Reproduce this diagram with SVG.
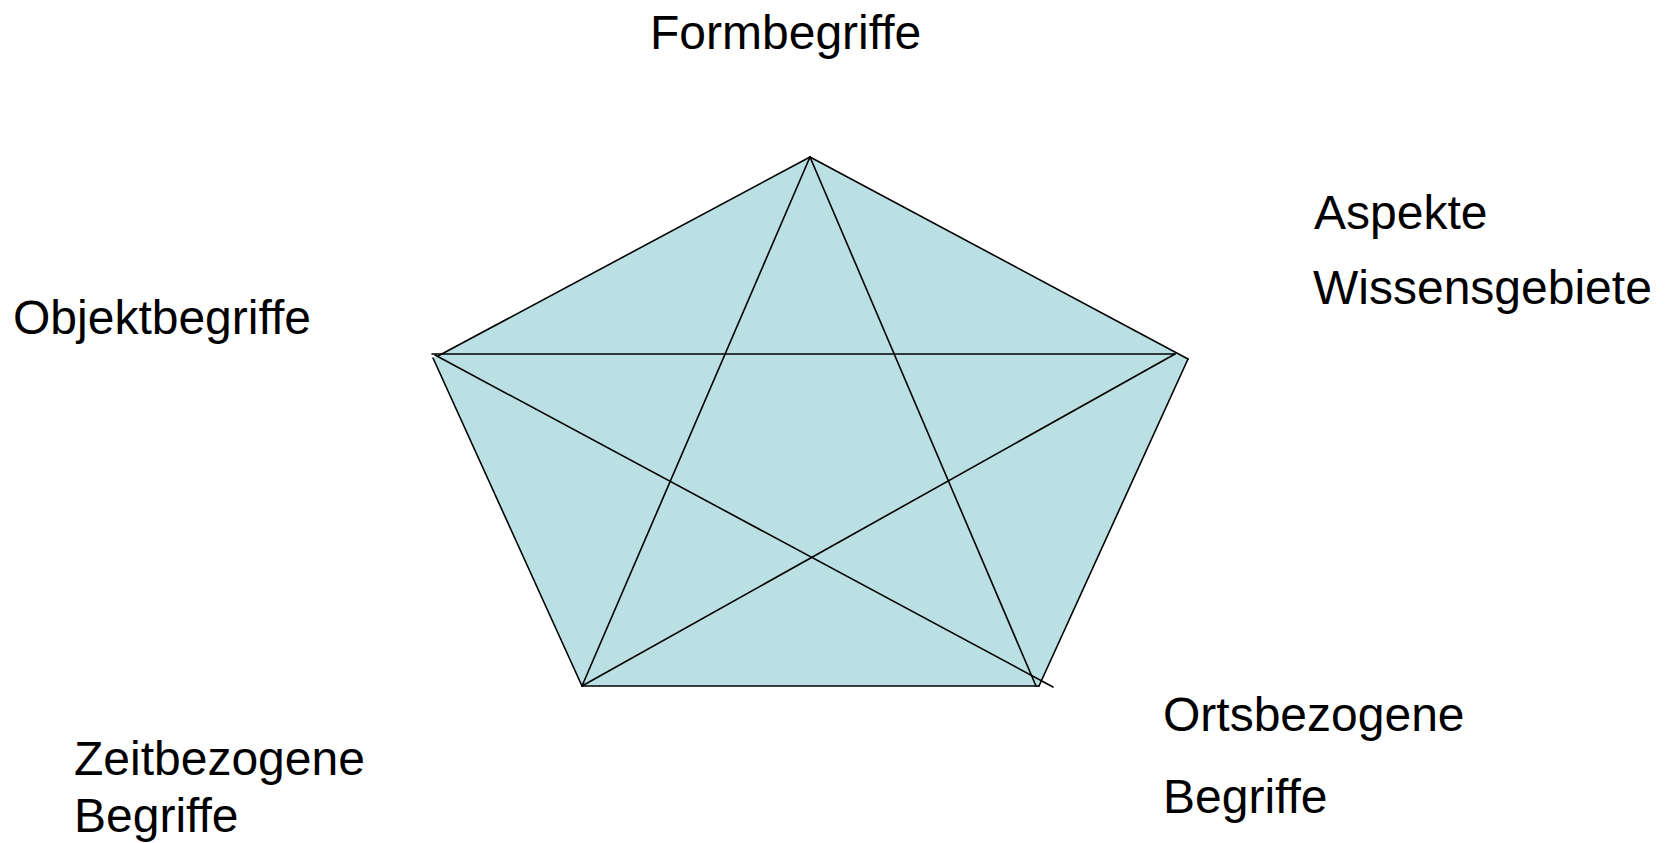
<svg xmlns="http://www.w3.org/2000/svg" width="1667" height="843" viewBox="0 0 1667 843">
<style>
.lbl{font-family:"Liberation Sans",Arial,sans-serif;font-size:48px;fill:#000}
.ln{stroke:#000;stroke-width:1.6;fill:none;stroke-linecap:round}
</style>
<rect width="1667" height="843" fill="#fff"/>
<g id="pentagon">
<polygon points="810,157 1188,359 1039,686 582,686 433,358 438,356" fill="#BBE0E3" stroke="none"/>
</g>
<g id="connectors">
<line class="ln" x1="810" y1="157" x2="438" y2="356"/>
<line class="ln" x1="810" y1="157" x2="1188" y2="359"/>
<line class="ln" x1="433" y1="358" x2="582" y2="686"/>
<line class="ln" x1="1188" y1="359" x2="1039" y2="686"/>
<line class="ln" x1="582" y1="686" x2="1039" y2="686"/>
<line class="ln" x1="432" y1="354" x2="1175" y2="354"/>
<line class="ln" x1="810" y1="157" x2="582" y2="686"/>
<line class="ln" x1="810" y1="157" x2="1036" y2="686"/>
<line class="ln" x1="1175" y1="354" x2="582" y2="686"/>
<line class="ln" x1="435" y1="355" x2="1053" y2="687"/>
</g>
<g id="formbegriffe"><text class="lbl" x="650" y="49">Formbegriffe</text></g>
<g id="objektbegriffe"><text class="lbl" x="13" y="334">Objektbegriffe</text></g>
<g id="aspekte"><text class="lbl" x="1314" y="229">Aspekte</text><text class="lbl" x="1313" y="304">Wissensgebiete</text></g>
<g id="zeitbezogene"><text class="lbl" x="74" y="775">Zeitbezogene</text><text class="lbl" x="74" y="832">Begriffe</text></g>
<g id="ortsbezogene"><text class="lbl" x="1163" y="731">Ortsbezogene</text><text class="lbl" x="1163" y="813">Begriffe</text></g>
</svg>
